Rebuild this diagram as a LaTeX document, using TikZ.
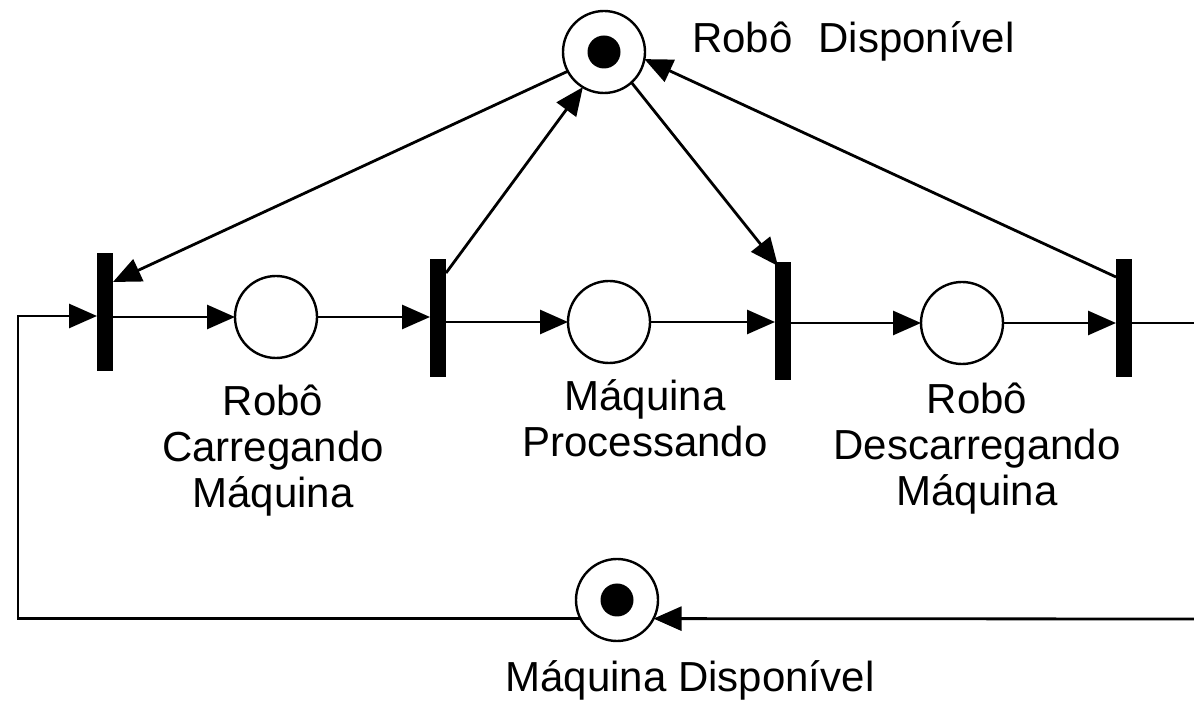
\documentclass[tikz,border=0pt]{standalone}
\usepackage{fontspec}
\setmainfont{Liberation Sans}
\usetikzlibrary{arrows.meta,calc,positioning}
\begin{document}
\begin{tikzpicture}[x=1pt, y=1pt, outer sep=0pt, >={Triangle[length=28pt,width=24pt]}]

\tikzstyle{place}=[circle,draw,line width=2.4pt,minimum size=82pt,inner sep=0pt]
\tikzstyle{token}=[circle,fill=black,minimum size=33pt,inner sep=0pt]
\tikzstyle{trans}=[rectangle,fill=black,minimum width=16pt,minimum height=118pt,inner sep=0pt]
\tikzstyle{arc}=[->,line width=2.8pt]
\tikzstyle{lbl}=[font=\fontsize{42}{46}\selectfont,align=center,inner sep=0pt]

\useasboundingbox (0,0) rectangle (1194,704);

% places and tokens
\node[place] (RD) at (604,652) {};
\node[token] (RDtok) at (RD) {};
\node[place] (p1) at (276,387) {};
\node[place] (p2) at (609,382) {};
\node[place] (p3) at (962,381) {};
\node[place] (MD) at (617,104) {};
\node[token] (MDtok) at (MD) {};

% transitions
\node[trans] (t1) at (105,392) {};
\node[trans] (t2) at (438,386) {};
\node[trans] (t3) at (783,383) {};
\node[trans] (t4) at (1124,386) {};

% labels
\node[lbl,anchor=base west] (lRD) at (692,651) {Robô\hspace{0.62em}Disponível};
\node[lbl,anchor=north] (lp1) at (273,319) {Robô\\Carregando\\Máquina};
\node[lbl,anchor=north] (lp2) at (645,324) {Máquina\\Processando};
\node[lbl,anchor=north] (lp3) at (977,321) {Robô\\Descarregando\\Máquina};
\node[lbl,anchor=base] (lMD) at (690,12) {Máquina Disponível};

% arcs to and from the robot
\draw[arc] (RD.208) -- ([yshift=-29pt]t1.north east);
\draw[arc] ([yshift=-14pt]t2.north east) -- (RD.239);
\draw[arc] (RD.-48) -- ([xshift=3pt,yshift=-4pt]t3.north west);
\draw[arc] ([yshift=-18pt]t4.north west) -- (RD.-10);

% main line
\coordinate (lft) at (18,388);
\draw[arc] (MD.207) -| (lft) -- (lft -| t1.west);
\draw[arc] (t1.east |- p1) -- (p1.west);
\draw[arc] (p1.east) -- (p1.east -| t2.west);
\draw[arc] (t2.east |- p2) -- (p2.west);
\draw[arc] (p2.east) -- (p2.east -| t3.west);
\draw[arc] (t3.east |- p3) -- (p3.west);
\draw[arc] (p3.east) -- (p3.east -| t4.west);
\coordinate (rgt) at (1194,381);
\draw[line width=2.8pt] (t4.east |- rgt) -- (rgt);
\coordinate (rgb) at (1194,85);
\draw[arc] (rgb) -- (MD.-27);
\end{tikzpicture}
\end{document}
